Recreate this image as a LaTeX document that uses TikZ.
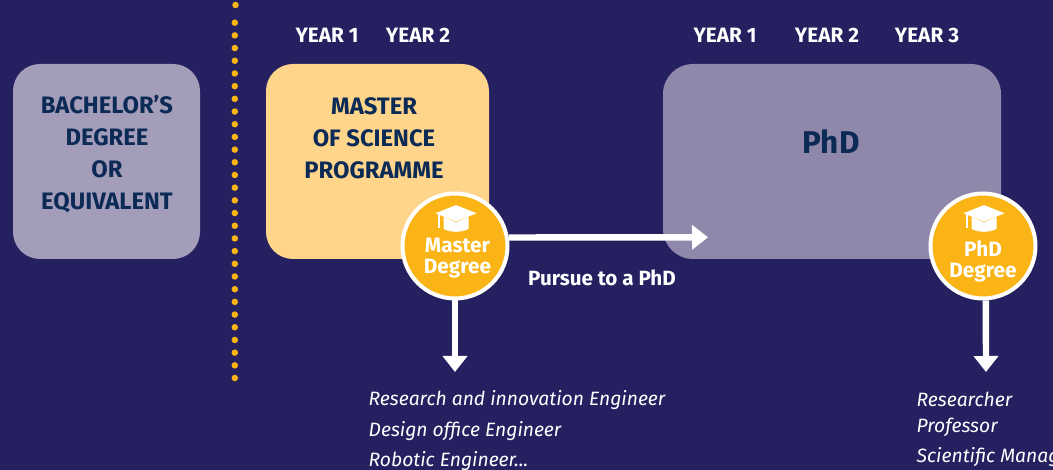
\documentclass[tikz,border=0pt]{standalone}
\usepackage{fontspec}
\setmainfont{Fira Sans}
\usetikzlibrary{arrows.meta}
\definecolor{bgc}{HTML}{252060}
\definecolor{bach}{HTML}{A49DB9}
\definecolor{mast}{HTML}{FFD58C}
\definecolor{phdc}{HTML}{8F88AB}
\definecolor{gold}{HTML}{FBB415}
\definecolor{ink}{HTML}{0B2A55}
\tikzset{
  x=1pt,y=-1pt,
  progtxt/.style={text=ink,font=\bfseries\fontsize{23.8}{32}\selectfont,align=center,inner sep=0pt},
  yeartxt/.style={text=white,font=\bfseries\fontsize{20.8}{24}\selectfont,inner sep=0pt},
  degree/.style={circle,fill=gold,draw=white,line width=4pt,minimum size=105pt,inner sep=0pt},
  degtxt/.style={text=white,font=\bfseries\fontsize{20.8}{21}\selectfont,align=center,inner sep=0pt},
  careertxt/.style={text=white,font=\itshape\fontsize{19.3}{24}\selectfont,anchor=base west,inner sep=0pt},
  flow/.style={draw=white,line width=6.4pt,-{Triangle[length=16pt,width=24pt]}},
  dot/.style={circle,fill=gold,inner sep=0pt,minimum size=6.5pt},
  pics/gradcap/.style={code={
    \fill[white] (-20.5,0) -- (0,-8.3) -- (20.5,0) -- (0,8.3) -- cycle;
    \fill[white] (-12.5,3.5) -- (0,9) -- (12.5,3.5) -- (12.5,15.5) .. controls (6,19.5) and (-6,19.5) .. (-12.5,15.5) -- cycle;
    \fill[white] (-18,1) rectangle (-16,14.5);
  }}
}
\begin{document}
\begin{tikzpicture}
\path[use as bounding box,fill=bgc] (0,0) rectangle (1053,470);
\clip (0,0) rectangle (1053,470);
% dotted divider
\node[dot] (d0) at (235.5,5) {};
\foreach \i in {0,...,28}{\node[dot] (d\i x) at (234.8,22.7+12.69*\i) {};}
% programme boxes
\fill[bach,rounded corners=27pt] (13,64) rectangle (200,259);
\fill[mast,rounded corners=27pt] (266,64) rectangle (489,259);
\fill[phdc,rounded corners=30pt] (663,64) rectangle (1001,259);
\node[progtxt] (bachelor) at (107,154) {BACHELOR’S\\DEGREE\\OR\\EQUIVALENT};
\node[progtxt] (master) at (374,138) {MASTER\\OF SCIENCE\\PROGRAMME};
\node[text=ink,font=\bfseries\fontsize{31.5}{32}\selectfont,inner sep=0pt] (phd) at (831,142) {PhD};
% years
\node[yeartxt] (my1) at (327,35) {YEAR 1};
\node[yeartxt] (my2) at (418,35) {YEAR 2};
\node[yeartxt] (py1) at (725,35) {YEAR 1};
\node[yeartxt] (py2) at (827,35) {YEAR 2};
\node[yeartxt] (py3) at (927,35) {YEAR 3};
% degree circles
\node[degree] (mdeg) at (455,246) {};
\node[degree] (pdeg) at (983,246) {};
\pic at (456,213.3) {gradcap};
\pic at (984,213.3) {gradcap};
\node[degtxt] (mtxt) at (457.5,258.5) {Master\\Degree};
\node[degtxt] (ptxt) at (983,261) {PhD\\Degree};
% connectors
\coordinate (phdtip) at (708,237.3);
\coordinate (mtip) at (455,372);
\coordinate (ptip) at (986,372);
\draw[flow] (mdeg.9.2) -- (phdtip);
\draw[flow] (mdeg.south) -- (mtip);
\draw[flow] (pdeg.-87) -- (ptip);
\node[text=white,font=\bfseries\fontsize{20.6}{24}\selectfont,inner sep=0pt] (pursue) at (602,278) {Pursue to a PhD};
% careers
\node[careertxt] (c1) at (368.5,406) {Research and innovation Engineer};
\node[careertxt] (c2) at (368.5,437) {Design office Engineer};
\node[careertxt] (c3) at (368.5,467) {Robotic Engineer...};
\node[careertxt] (c4) at (916.5,406.5) {Researcher};
\node[careertxt] (c5) at (916.5,432.5) {Professor};
\node[careertxt] (c6) at (916.5,462.5) {Scientific Manag};
\end{tikzpicture}
\end{document}
